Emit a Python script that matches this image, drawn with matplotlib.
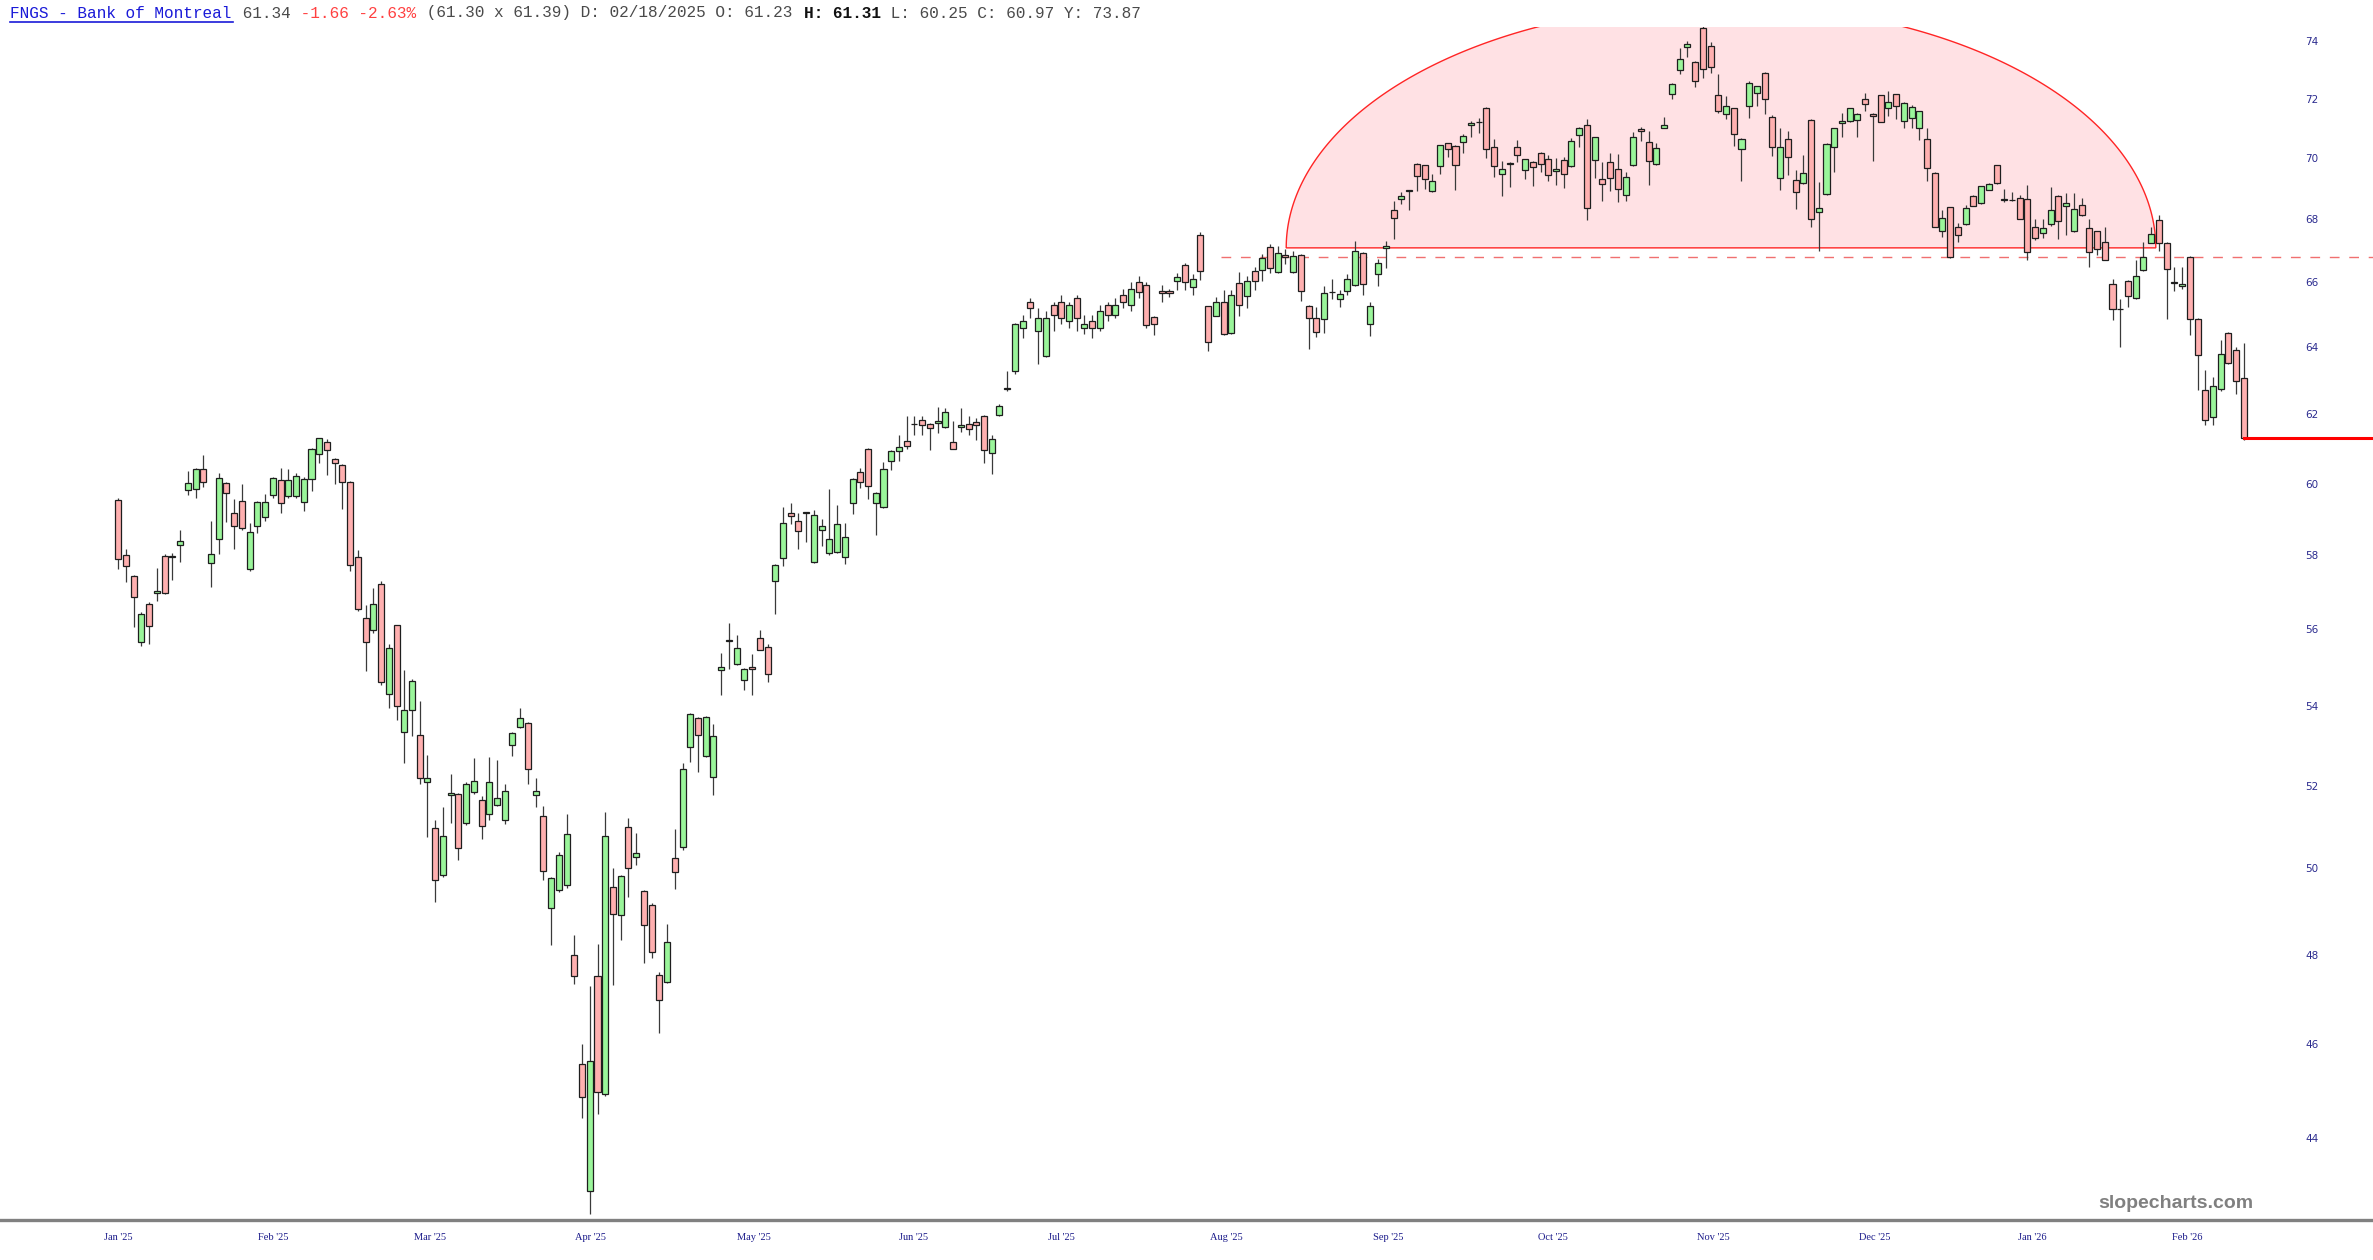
import numpy as np
import matplotlib
matplotlib.use('Agg')
import matplotlib.pyplot as plt
from matplotlib.ticker import FixedLocator, NullLocator, FixedFormatter
from matplotlib.lines import Line2D

# daily OHLC, one entry per trading day (index 0 = first candle)
opens = [
    59.55, 58.0, 57.43, 55.66, 56.67, 56.98, 57.98, 57.95, 58.27, 59.81,
    59.84, 60.43, 57.78, 58.45, 60.02, 59.18, 59.51, 57.62, 58.82, 59.07,
    59.67, 60.1, 59.66, 59.64, 59.49, 60.12, 60.84, 61.2, 60.7, 60.52,
    60.06, 57.96, 56.31, 55.99, 57.22, 54.31, 56.1, 53.35, 53.9, 53.27,
    52.09, 50.96, 49.85, 51.77, 51.8, 51.08, 51.85, 51.64, 51.31, 51.53,
    51.17, 53.02, 53.46, 53.56, 51.76, 51.27, 49.08, 49.5, 49.6, 48.0,
    45.58, 42.92, 47.51, 44.94, 49.56, 48.9, 50.99, 50.27, 49.46, 49.15,
    47.54, 47.39, 50.24, 50.51, 52.97, 53.69, 52.73, 52.22, 54.93, 55.69,
    55.08, 54.68, 55.02, 55.77, 55.54, 57.3, 57.91, 59.18, 58.94, 59.17,
    57.81, 58.69, 58.06, 58.1, 57.94, 59.44, 60.32, 61.0, 59.46, 59.35,
    60.65, 60.93, 61.22, 61.71, 61.84, 61.73, 61.76, 61.63, 61.19, 61.64,
    61.71, 61.78, 61.95, 60.88, 61.97, 62.75, 63.3, 64.6, 65.4, 64.5,
    63.75, 65.3, 65.4, 64.8, 65.5, 64.6, 64.8, 64.6, 65.3, 65.0,
    65.6, 65.3, 66.0, 65.93, 64.93, 65.72, 65.72, 66.03, 66.55, 65.85,
    67.49, 65.26, 64.97, 65.4, 64.43, 65.99, 65.58, 66.36, 66.4, 67.13,
    66.33, 66.86, 66.34, 66.86, 65.28, 64.91, 64.88, 65.69, 65.47, 65.74,
    65.93, 66.94, 64.71, 66.25, 67.08, 68.32, 68.65, 68.92, 69.82, 69.76,
    68.92, 69.74, 70.5, 70.41, 70.53, 71.11, 71.2, 71.7, 70.39, 69.48,
    69.84, 70.39, 69.62, 69.87, 70.19, 69.96, 69.58, 69.93, 69.74, 70.78,
    71.1, 69.94, 69.32, 69.88, 69.66, 68.78, 69.77, 70.99, 70.55, 69.8,
    71.01, 72.16, 72.99, 73.8, 73.28, 74.45, 73.83, 72.13, 71.49, 71.68,
    70.31, 71.75, 72.19, 72.9, 71.37, 69.36, 70.65, 69.28, 69.18, 71.28,
    68.25, 68.84, 70.38, 71.19, 71.24, 71.27, 71.98, 71.49, 72.12, 71.67,
    72.15, 71.24, 71.35, 71.0, 70.63, 69.51, 67.62, 68.39, 67.75, 67.85,
    68.76, 68.53, 68.96, 69.77, 68.64, 68.64, 68.7, 68.67, 67.77, 67.55,
    67.85, 68.76, 68.44, 67.64, 68.47, 67.73, 67.62, 67.27, 65.96, 65.18,
    66.06, 65.5, 66.39, 67.25, 67.97, 67.26, 65.99, 65.88, 66.81, 64.87,
    62.73, 61.92, 62.74, 64.44, 63.93, 63.07]

closes = [
    57.9, 57.7, 56.87, 56.41, 56.08, 57.03, 56.98, 57.97, 58.38, 60.03,
    60.43, 60.04, 58.03, 60.15, 59.72, 58.8, 58.76, 58.63, 59.49, 59.49,
    60.15, 59.44, 60.1, 60.22, 60.14, 61.0, 61.3, 60.95, 60.6, 60.04,
    57.72, 56.55, 55.66, 56.67, 54.63, 55.5, 54.0, 53.91, 54.64, 52.19,
    52.2, 49.73, 50.78, 51.81, 50.49, 52.05, 52.12, 51.02, 52.09, 51.69,
    51.86, 53.31, 53.69, 52.41, 51.87, 49.95, 49.77, 50.33, 50.83, 47.52,
    44.86, 45.64, 44.98, 50.78, 48.93, 49.82, 50.02, 50.36, 48.68, 48.06,
    46.98, 48.3, 49.91, 52.41, 53.8, 53.26, 53.72, 53.23, 55.0, 55.71,
    55.51, 54.96, 54.96, 55.46, 54.82, 57.72, 58.88, 59.1, 58.68, 59.19,
    59.12, 58.81, 58.46, 58.87, 58.49, 60.13, 60.05, 59.93, 59.73, 60.41,
    60.93, 61.05, 61.09, 61.73, 61.68, 61.59, 61.82, 62.06, 61.0, 61.69,
    61.56, 61.68, 60.96, 61.29, 62.25, 62.79, 64.7, 64.8, 65.2, 64.9,
    64.9, 65.0, 64.9, 65.3, 64.9, 64.7, 64.6, 65.1, 65.0, 65.3,
    65.4, 65.8, 65.7, 64.69, 64.71, 65.68, 65.68, 66.17, 66.0, 66.12,
    66.35, 64.15, 65.39, 64.41, 65.6, 65.31, 66.03, 66.06, 66.76, 66.44,
    66.92, 66.8, 66.83, 65.74, 64.9, 64.46, 65.66, 65.71, 65.65, 66.11,
    67.0, 65.96, 65.28, 66.62, 67.15, 68.06, 68.75, 68.94, 69.41, 69.3,
    69.24, 70.43, 70.31, 69.77, 70.75, 71.18, 71.22, 70.3, 69.74, 69.66,
    69.8, 70.11, 69.96, 69.7, 69.82, 69.43, 69.66, 69.49, 70.56, 71.01,
    68.37, 70.7, 69.15, 69.36, 69.0, 69.37, 70.7, 70.92, 69.92, 70.35,
    71.11, 72.52, 73.36, 73.88, 72.6, 73.01, 73.08, 71.6, 71.75, 70.8,
    70.64, 72.55, 72.43, 71.98, 70.39, 70.39, 70.03, 68.89, 69.52, 68.02,
    68.36, 70.49, 71.0, 71.24, 71.67, 71.49, 71.81, 71.41, 71.22, 71.89,
    71.77, 71.86, 71.72, 71.58, 69.69, 67.77, 68.06, 66.8, 67.51, 68.36,
    68.44, 69.08, 69.16, 69.18, 68.66, 68.62, 68.02, 66.97, 67.42, 67.72,
    68.31, 67.96, 68.53, 68.34, 68.15, 66.97, 67.05, 66.72, 65.17, 65.16,
    65.57, 66.21, 66.8, 67.52, 67.23, 66.43, 66.01, 65.96, 64.86, 63.76,
    61.83, 62.84, 63.81, 63.54, 62.98, 61.31]

highs = [
    59.6, 58.17, 57.45, 56.45, 56.74, 57.65, 58.03, 58.05, 58.7, 60.36,
    60.45, 60.81, 58.94, 60.31, 60.05, 59.56, 60.0, 58.9, 59.5, 59.7,
    60.18, 60.46, 60.42, 60.31, 60.18, 61.02, 61.32, 61.28, 60.72, 60.55,
    60.08, 58.14, 56.64, 57.1, 57.3, 55.6, 56.12, 54.92, 54.7, 54.12,
    52.76, 51.17, 51.47, 52.29, 51.82, 52.08, 52.68, 51.75, 52.72, 52.64,
    52.05, 53.33, 53.96, 53.6, 52.19, 51.51, 49.8, 50.4, 51.31, 48.46,
    46.0, 47.29, 48.24, 51.36, 50.02, 49.85, 51.2, 50.85, 49.5, 49.18,
    47.6, 48.7, 50.94, 52.55, 53.83, 53.72, 53.75, 53.55, 55.37, 56.17,
    55.84, 54.98, 55.34, 55.98, 55.6, 57.75, 59.35, 59.46, 59.18, 59.2,
    59.25, 59.0, 59.85, 59.39, 58.9, 60.15, 60.45, 61.02, 59.76, 60.62,
    60.95, 61.4, 61.95, 61.95, 61.95, 61.75, 62.23, 62.2, 61.8, 62.18,
    61.95, 61.9, 61.97, 61.4, 62.3, 63.3, 64.75, 65.0, 65.5, 65.2,
    65.1, 65.4, 65.6, 65.4, 65.6, 65.0, 65.0, 65.3, 65.4, 65.5,
    65.8, 66.0, 66.2, 66.0, 64.95, 65.93, 65.8, 66.3, 66.6, 66.25,
    67.61, 65.28, 65.55, 65.77, 65.77, 66.34, 66.2, 66.5, 66.9, 67.2,
    67.14, 67.05, 67.0, 66.9, 65.3, 65.25, 65.9, 66.1, 65.75, 66.25,
    67.3, 66.96, 65.4, 66.75, 67.3, 68.59, 68.9, 68.95, 69.85, 69.78,
    69.49, 70.45, 70.52, 70.43, 70.8, 71.25, 71.35, 71.72, 70.64, 69.9,
    69.86, 70.6, 69.98, 69.9, 70.21, 70.1, 70.0, 70.05, 70.68, 71.03,
    71.31, 70.72, 69.86, 70.18, 70.15, 69.55, 70.87, 71.05, 70.9, 70.5,
    71.37, 72.55, 73.74, 74.0, 73.3, 74.7, 73.95, 72.85, 72.1, 71.7,
    70.66, 72.6, 72.45, 72.92, 71.45, 71.0, 70.9, 69.6, 70.1, 71.3,
    69.2, 70.5, 71.02, 71.5, 71.7, 71.52, 72.21, 71.52, 72.14, 72.27,
    72.17, 71.88, 71.8, 71.6, 71.0, 69.53, 68.3, 68.41, 67.9, 68.45,
    68.78, 69.1, 69.18, 69.79, 69.0, 68.9, 68.8, 69.11, 68.0, 68.0,
    69.05, 68.8, 68.85, 68.85, 68.7, 68.0, 67.64, 67.75, 66.1, 65.48,
    66.08, 66.7, 67.28, 67.75, 68.15, 67.28, 66.5, 66.48, 66.83, 64.9,
    63.32, 63.1, 64.22, 64.46, 64.0, 64.12]

lows = [
    57.63, 57.27, 56.07, 55.57, 55.61, 56.76, 56.95, 57.32, 57.82, 59.67,
    59.6, 59.91, 57.13, 58.03, 58.93, 58.16, 58.7, 57.57, 58.62, 58.95,
    59.6, 59.18, 59.6, 59.6, 59.23, 59.78, 60.58, 60.24, 60.0, 59.27,
    57.57, 56.48, 54.91, 55.9, 54.54, 53.94, 53.64, 52.57, 53.24, 52.03,
    50.75, 49.22, 49.8, 51.09, 50.2, 51.05, 51.8, 50.71, 51.17, 51.5,
    51.06, 52.73, 53.44, 52.03, 51.47, 49.73, 48.23, 49.45, 49.55, 47.34,
    44.43, 42.45, 44.51, 44.9, 47.32, 48.33, 49.32, 50.09, 47.81, 47.93,
    46.26, 47.35, 49.51, 50.45, 52.59, 52.34, 52.7, 51.77, 54.28, 54.96,
    55.05, 54.41, 54.28, 55.44, 54.62, 56.4, 57.7, 58.85, 58.17, 58.37,
    57.78, 58.26, 58.0, 58.05, 57.77, 59.13, 59.88, 59.57, 58.55, 59.3,
    60.38, 60.64, 61.0, 61.39, 61.41, 60.96, 61.45, 61.6, 60.98, 61.48,
    61.4, 61.26, 60.6, 60.26, 61.95, 62.7, 63.2, 64.3, 64.9, 63.5,
    63.7, 64.5, 64.7, 64.6, 64.5, 64.4, 64.3, 64.5, 64.8, 64.9,
    65.2, 65.1, 65.5, 64.6, 64.38, 65.38, 65.55, 65.77, 65.77, 65.61,
    66.08, 63.89, 64.95, 64.38, 64.4, 64.95, 65.2, 65.77, 66.03, 66.3,
    66.3, 66.58, 66.3, 65.42, 63.95, 64.33, 64.44, 65.48, 65.25, 65.6,
    65.9, 65.62, 64.35, 65.9, 66.44, 67.36, 68.5, 68.31, 68.92, 69.0,
    68.9, 69.49, 70.03, 68.95, 70.18, 70.72, 70.84, 70.02, 69.38, 68.77,
    69.05, 69.88, 69.3, 69.07, 69.54, 69.24, 69.13, 69.03, 69.72, 70.39,
    67.99, 69.35, 68.61, 68.92, 68.55, 68.6, 69.75, 70.59, 69.11, 69.78,
    71.0, 72.0, 72.85, 73.43, 72.39, 72.7, 72.9, 71.5, 71.3, 70.4,
    69.25, 71.35, 71.75, 71.49, 70.08, 68.95, 69.44, 68.34, 69.15, 67.77,
    66.99, 68.8, 69.54, 70.71, 71.2, 70.7, 71.6, 69.92, 71.2, 71.4,
    71.3, 71.0, 71.0, 70.6, 69.25, 67.75, 67.45, 66.78, 67.28, 67.83,
    68.42, 68.5, 68.94, 69.16, 68.55, 68.6, 68.0, 66.71, 67.35, 67.4,
    67.8, 67.38, 67.51, 67.6, 68.1, 66.47, 66.87, 66.7, 64.83, 64.0,
    65.24, 65.48, 66.37, 67.23, 67.0, 64.88, 65.74, 65.8, 64.38, 62.72,
    61.68, 61.7, 62.7, 63.5, 62.6, 61.25]

# month labels and the candle index they sit under
month_labels = ["Jan '25", "Feb '25", "Mar '25", "Apr '25", "May '25", "Jun '25", "Jul '25",
                "Aug '25", "Sep '25", "Oct '25", "Nov '25", "Dec '25", "Jan '26", "Feb '26"]
month_pos = [0, 20.0, 40.3, 61.1, 82.2, 102.9, 122.0, 143.3, 164.3, 185.6, 206.3, 227.3, 247.6, 267.7]
price_ticks = [44, 46, 48, 50, 52, 54, 56, 58, 60, 62, 64, 66, 68, 70, 72, 74]

# drawn annotations: rounded top, breakdown level, last price
arc_left, arc_right = 151.1, 263.6
arc_base, arc_top = 67.09, 75.3
dash_start, dash_level = 142.6, 66.79
last_price = 61.31

o = np.array(opens); c = np.array(closes); h = np.array(highs); l = np.array(lows)
x = np.arange(len(o))

fig = plt.figure(figsize=(23.73, 12.6), dpi=100)
ax = fig.add_axes([0, 40 / 1260, 1, 1193 / 1260])
ax.set_yscale('log')
ax.set_xlim(-15.3, 291.7)
ax.set_ylim(42.33, 74.49)

# arc pattern
t = np.linspace(0, np.pi, 300)
ax_x = (arc_left + arc_right) / 2 + (arc_right - arc_left) / 2 * np.cos(t)
ax_y = np.exp(np.log(arc_base) + (np.log(arc_top) - np.log(arc_base)) * np.sin(t))
ax.fill(ax_x, ax_y, facecolor='#ffe1e4', edgecolor='#ff2525', lw=1.0, zorder=1)

ax.plot([dash_start, 291.7], [dash_level, dash_level], color='#f07070', lw=1.0,
        dashes=(7, 7), zorder=1.5)

up = c >= o
ax.vlines(x, l, h, color='#3a3a3a', lw=0.9, zorder=2)
body_lo = np.minimum(o, c)
body_h = np.maximum(np.abs(c - o), 0.02)
ax.bar(x[up], body_h[up], bottom=body_lo[up], width=0.78, color='#9af59a',
       edgecolor='#1e1e1e', lw=0.9, zorder=3)
ax.bar(x[~up], body_h[~up], bottom=body_lo[~up], width=0.78, color='#ffb0b0',
       edgecolor='#1e1e1e', lw=0.9, zorder=3)

ax.plot([x[-1], 291.7], [last_price, last_price], color='#ff0000', lw=2.2, zorder=4)

for s in ['top', 'left', 'right']:
    ax.spines[s].set_visible(False)
ax.spines['bottom'].set_color('#808080')
ax.spines['bottom'].set_linewidth(2.4)

ax.yaxis.tick_right()
ax.yaxis.set_major_locator(FixedLocator(price_ticks))
ax.yaxis.set_major_formatter(FixedFormatter([str(v) for v in price_ticks]))
ax.yaxis.set_minor_locator(NullLocator())
ax.tick_params(axis='y', length=0, pad=-49, labelsize=7.5, labelcolor='#2b2b8f')
ax.set_xticks(month_pos)
ax.set_xticklabels(month_labels, family='Liberation Serif', fontsize=7.5, color='#1a1a8a')
ax.tick_params(axis='x', length=0, pad=9)
ax.patch.set_alpha(0)

# header line
x0, cw, yh = 10 / 2373, 9.68 / 2373, 1 - 13 / 1260
pieces = [("FNGS - Bank of Montreal", '#1a1ad8', 'normal'),
          (" 61.34", '#4a4a4a', 'normal'),
          (" -1.66 -2.63%", '#ff4040', 'normal'),
          (" (61.30 x 61.39) D: 02/18/2025 O: 61.23 ", '#4a4a4a', 'normal'),
          ("H: 61.31", '#111111', 'bold'),
          (" L: 60.25 C: 60.97 Y: 73.87", '#4a4a4a', 'normal')]
n = 0
for txt, col, wt in pieces:
    fig.text(x0 + n * cw, yh, txt, family='Liberation Mono', fontsize=11.6,
             color=col, weight=wt, va='center', ha='left')
    n += len(txt)
fig.add_artist(Line2D([x0, x0 + 23 * cw], [yh - 9 / 1260, yh - 9 / 1260],
                      color='#1a1ad8', lw=1.2))

fig.text(2253 / 2373, 1 - 1203 / 1260, 'slopecharts.com', family='Liberation Sans',
         weight='bold', fontsize=14, color='#808080', ha='right', va='center')

fig.savefig('out.png', dpi=100)
